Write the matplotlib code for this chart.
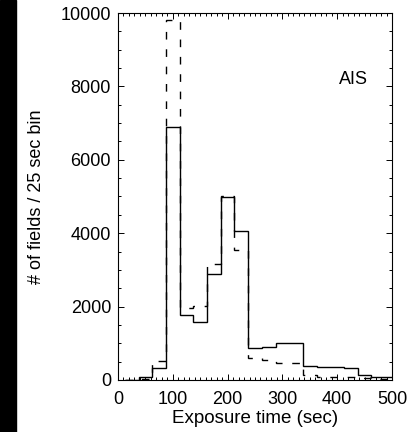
import numpy as np
import matplotlib
matplotlib.use('Agg')
import matplotlib.pyplot as plt
from matplotlib.patches import Rectangle
from matplotlib.ticker import MultipleLocator

plt.rcParams['font.family'] = ['Liberation Sans', 'DejaVu Sans']

# bin edges (25 sec bins)
bordas = [12.5, 37.5, 62.5, 87.5, 112.5, 137.5, 162.5, 187.5, 212.5, 237.5,
          262.5, 287.5, 312.5, 337.5, 362.5, 387.5, 412.5, 437.5, 462.5, 487.5, 512.5]

# solid histogram
contagem_solida = [0, 80, 320, 6900, 1770, 1580, 2900, 4980, 4050, 880,
                   910, 1000, 1000, 380, 350, 350, 330, 130, 80, 70]

# dashed histogram
contagem_tracejada = [0, 30, 520, 9800, 1950, 2010, 3150, 5000, 3550, 590,
                      540, 460, 450, 130, 90, 70, 70, 50, 40, 40]

fig = plt.figure(figsize=(4.17, 4.32), dpi=100)
ax = fig.add_axes([0.283, 0.1204, 0.657, 0.8495])

# black strip on the left edge
fig.patches.append(Rectangle((0, 0), 15.5 / 417, 1, transform=fig.transFigure,
                             color='black', zorder=0))

ax.stairs(contagem_tracejada, bordas, baseline=None, color='black', lw=1.0,
          linestyle=(0, (5.5, 7)))
ax.stairs(contagem_solida, bordas, baseline=None, color='black', lw=1.0)

ax.set_xlim(0, 500)
ax.set_ylim(0, 10000)
ax.xaxis.set_major_locator(MultipleLocator(100))
ax.xaxis.set_minor_locator(MultipleLocator(10))
ax.yaxis.set_major_locator(MultipleLocator(2000))
ax.yaxis.set_minor_locator(MultipleLocator(500))
ax.tick_params(which='both', direction='in', top=True, right=True,
               labelsize=13, width=0.7)
ax.tick_params(which='major', length=4)
ax.tick_params(which='minor', length=2)
ax.tick_params(axis='x', which='major', pad=8)
ax.tick_params(axis='y', which='major', pad=5)
for s in ax.spines.values():
    s.set_linewidth(0.8)

ax.set_xlabel('Exposure time (sec)', fontsize=13.5, labelpad=1.5)
ax.set_ylabel('# of fields / 25 sec bin', fontsize=13, labelpad=11)
ax.text(0.86, 0.82, 'AIS', transform=ax.transAxes, ha='center', va='center',
        fontsize=13)

plt.savefig('out.png', dpi=100)
